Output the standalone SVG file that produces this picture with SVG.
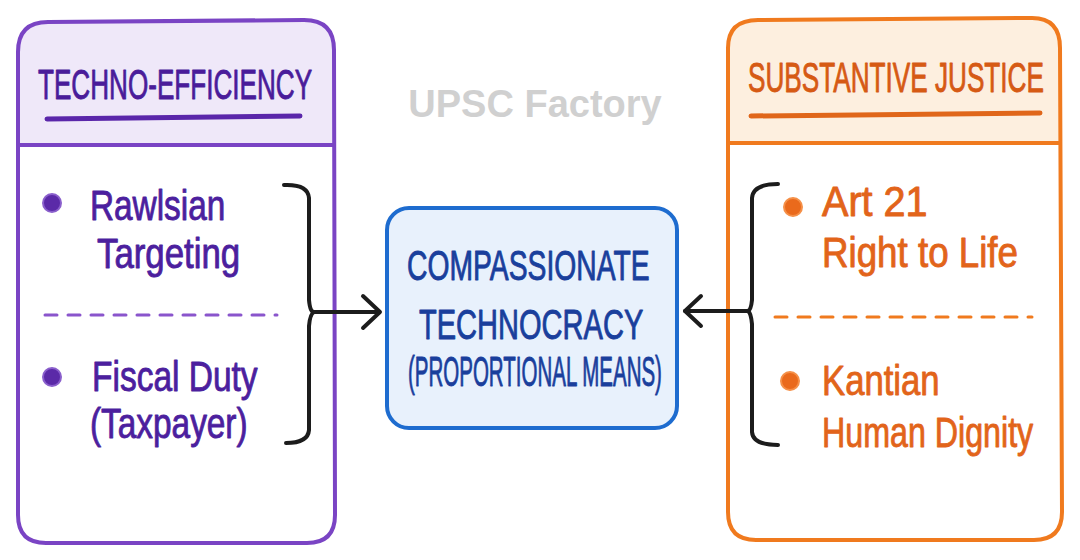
<svg xmlns="http://www.w3.org/2000/svg" width="1080" height="560" viewBox="0 0 1080 560">
<style>
.t{font-family:"Liberation Sans",Arial,sans-serif;stroke-width:0.9px;stroke-linejoin:round}
.pbody{font-size:42px;fill:#4c1f9e;stroke:#4c1f9e}
.obody{font-size:42px;fill:#e2641a;stroke:#e2641a}
.ptitle{font-size:42px;fill:#4a1c9a;stroke:#4a1c9a}
.otitle{font-size:42px;fill:#d65a14;stroke:#d65a14}
.ctext{font-size:42px;fill:#1a3f9c;stroke:#1a3f9c}
.conn{fill:none;stroke:#1c1c1c;stroke-width:4;stroke-linecap:round;stroke-linejoin:round}
</style>
<rect width="1080" height="560" fill="#ffffff"/>
<text x="535" y="117" text-anchor="middle" font-family="'Liberation Sans',Arial,sans-serif" font-size="38" font-weight="bold" fill="#d0d0d0">UPSC Factory</text>

<g id="techno-efficiency">
  <path d="M18,145 L18,52 Q18,22 48,22 L304,20 Q334,20 334,50 L334,145 Z" fill="#efe8f9"/>
  <path d="M18,145 L334,145 L335,515 Q335,543 307,543 L46,543 Q18,543 18,515 Z" fill="#ffffff"/>
  <path d="M18,515 L18,52 Q18,22 48,22 L304,20 Q334,20 334,50 L335,515 Q335,543 307,543 L46,543 Q18,543 18,515 Z" fill="none" stroke="#7a44c4" stroke-width="4"/>
  <line x1="18" y1="145" x2="334" y2="145" stroke="#7a44c4" stroke-width="4"/>
  <text class="t ptitle" transform="translate(38,99) scale(0.62,1)" textLength="442" lengthAdjust="spacingAndGlyphs">TECHNO-EFFICIENCY</text>
  <line x1="47" y1="119" x2="300" y2="116" stroke="#5a26aa" stroke-width="5" stroke-linecap="round"/>
  <circle cx="52" cy="203" r="9" fill="#5b2aa8" stroke="#8a5fcc" stroke-width="2"/>
  <text class="t pbody" transform="translate(90,220) scale(0.8,1)" textLength="169" lengthAdjust="spacingAndGlyphs">Rawlsian</text>
  <text class="t pbody" transform="translate(97,268) scale(0.8,1)" textLength="179" lengthAdjust="spacingAndGlyphs">Targeting</text>
  <line x1="45" y1="315" x2="277" y2="315" stroke="#8a55cc" stroke-width="3" stroke-dasharray="12 11" stroke-linecap="round"/>
  <circle cx="52" cy="377" r="9" fill="#5b2aa8" stroke="#8a5fcc" stroke-width="2"/>
  <text class="t pbody" transform="translate(92,391) scale(0.8,1)" textLength="207" lengthAdjust="spacingAndGlyphs">Fiscal Duty</text>
  <text class="t pbody" transform="translate(90,438) scale(0.8,1)" textLength="197" lengthAdjust="spacingAndGlyphs">(Taxpayer)</text>
</g>

<g id="compassionate-technocracy">
  <rect x="387" y="208" width="290" height="220" rx="22" fill="#e8f1fc" stroke="#1e6ccf" stroke-width="4"/>
  <text class="t ctext" transform="translate(407,280) scale(0.663,1)" textLength="366" lengthAdjust="spacingAndGlyphs">COMPASSIONATE</text>
  <text class="t ctext" transform="translate(419,339) scale(0.69,1)" textLength="325" lengthAdjust="spacingAndGlyphs">TECHNOCRACY</text>
  <text class="t ctext" transform="translate(408,386) scale(0.638,1)" font-size="32" textLength="398" lengthAdjust="spacingAndGlyphs">(PROPORTIONAL MEANS)</text>
</g>

<g id="substantive-justice">
  <path d="M728,143 L728,48 Q728,20 758,20 L1032,18 Q1060,18 1060,48 L1060,143 Z" fill="#fdefdf"/>
  <path d="M728,143 L1060,143 L1062,512 Q1062,540 1034,540 L756,540 Q728,540 728,512 Z" fill="#ffffff"/>
  <path d="M728,512 L728,48 Q728,20 758,20 L1032,18 Q1060,18 1060,48 L1062,512 Q1062,540 1034,540 L756,540 Q728,540 728,512 Z" fill="none" stroke="#f07a1e" stroke-width="4"/>
  <line x1="728" y1="143" x2="1060" y2="143" stroke="#f07a1e" stroke-width="4"/>
  <text class="t otitle" transform="translate(748,92) scale(0.614,1)" textLength="482" lengthAdjust="spacingAndGlyphs">SUBSTANTIVE JUSTICE</text>
  <line x1="751" y1="116" x2="1040" y2="113" stroke="#e0661a" stroke-width="5" stroke-linecap="round"/>
  <circle cx="793" cy="207" r="9" fill="#ea6a1c" stroke="#f59048" stroke-width="2"/>
  <text class="t obody" transform="translate(822,216) scale(0.8,1)" textLength="132" lengthAdjust="spacingAndGlyphs">Art 21</text>
  <text class="t obody" transform="translate(822,267) scale(0.8,1)" textLength="245" lengthAdjust="spacingAndGlyphs">Right to Life</text>
  <line x1="775" y1="317" x2="1032" y2="317" stroke="#f07a1e" stroke-width="3" stroke-dasharray="12 11" stroke-linecap="round"/>
  <circle cx="790" cy="381" r="9" fill="#ea6a1c" stroke="#f59048" stroke-width="2"/>
  <text class="t obody" transform="translate(822,395) scale(0.8,1)" textLength="147" lengthAdjust="spacingAndGlyphs">Kantian</text>
  <text class="t obody" transform="translate(822,447) scale(0.8,1)" textLength="264" lengthAdjust="spacingAndGlyphs">Human Dignity</text>
</g>

<g id="connectors">
  <path class="conn" d="M284,185 Q308,184 309,198 L309,300 Q310,312 314,312 Q310,314 309,326 L309,430 Q308,443 286,443"/>
  <path class="conn" d="M314,312 L379,312"/>
  <path class="conn" d="M363,296 L380,312 L363,328"/>
  <path class="conn" d="M778,184 Q753,184 752,198 L752,300 Q751,310 748,311 Q751,313 752,324 L752,432 Q753,445 778,445"/>
  <path class="conn" d="M748,311 L685,311"/>
  <path class="conn" d="M701,296 L685,311 L701,326"/>
</g>
</svg>
